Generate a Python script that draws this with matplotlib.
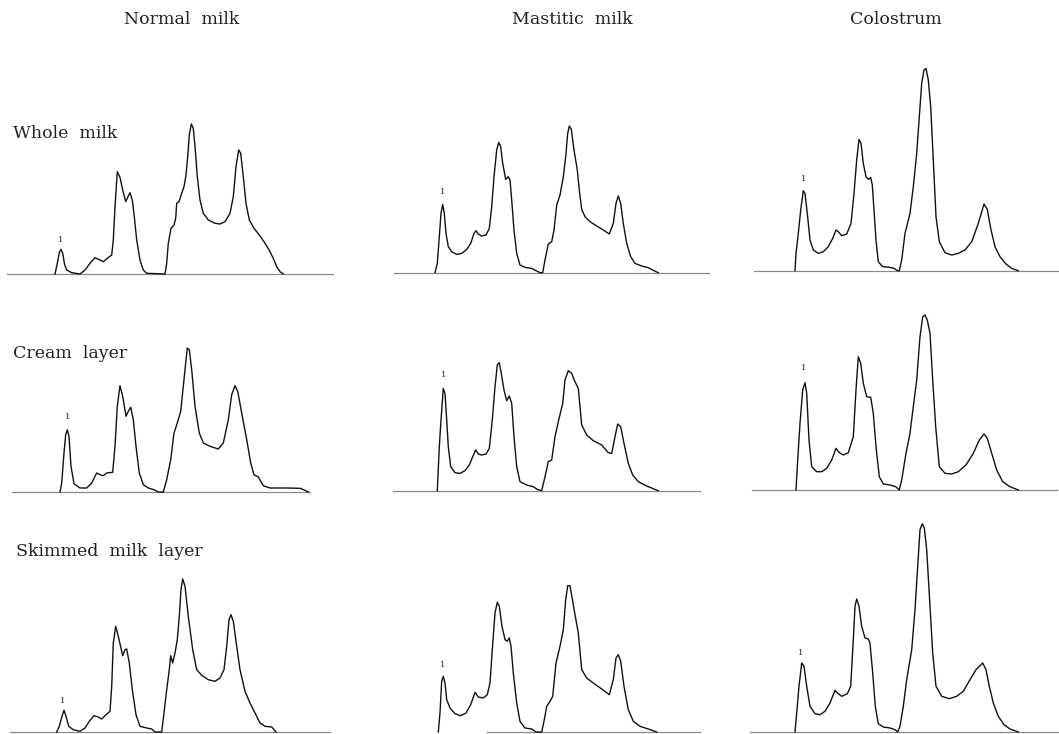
import matplotlib
matplotlib.use("Agg")
import matplotlib.pyplot as plt

# densitometer traces: migration distance (px) and height above baseline (px)
normal_whole_x = [55, 57.3, 59.3, 61, 62.7, 64.7, 66.7, 71.7, 80, 85, 90, 95, 100, 103.3, 107.3, 111.7,
                  113.3, 115, 117.3, 120, 122.7, 125.7, 128.3, 130, 132.3, 134.3, 136.7, 140, 143.3, 146.7,
                  165, 166.7, 168.3, 171, 174, 175.7, 176.7, 179, 181.7, 184, 186, 187.7, 189.3, 191.3,
                  193.3, 195.3, 197.3, 200, 203.3, 208.3, 215, 220, 225, 230, 233.3, 236, 238.7, 240.7,
                  243.3, 246, 249.3, 254, 259.3, 264, 268.7, 273.3, 276.7, 280, 283.3]
normal_whole_h = [0, 10.7, 21.3, 24.7, 20.7, 9, 4, 1.3, 0, 4, 10.7, 16.3, 14, 12.3, 15.7, 19,
                  34, 67.3, 102.3, 96.7, 84, 72.3, 78, 81.3, 74, 57.3, 34, 14, 4, 0.7,
                  0, 10.7, 30.7, 45.7, 49, 55.7, 70.7, 72.3, 80.7, 87.3, 99, 117.3, 139, 150,
                  145.7, 124, 97.3, 74, 60.7, 54, 50.7, 50, 52.3, 60.7, 77.3, 107.3, 124, 120.7,
                  97.3, 70.7, 54, 45.7, 39, 32.3, 24.7, 15.7, 7.3, 2.3, 0]

mastitic_whole_x = [55, 57.3, 59.3, 61, 62.7, 64.3, 66, 68.3, 71.7, 76.7, 81.7, 86.7, 90.7, 94, 96, 98.3,
                    101.7, 106, 109.3, 111.7, 114, 116.7, 118.7, 120.7, 122.7, 125.7, 128.3, 130, 131.7,
                    134, 136.7, 140, 145, 151.7, 156, 160, 162.7, 165, 168.3, 171.7, 174, 176.7, 180,
                    183.3, 185.7, 187.7, 189.3, 191.3, 194, 197.3, 199.3, 201.7, 205, 210, 216.7, 223.3,
                    229.3, 233.3, 236, 238.3, 240.7, 243.3, 246.7, 250.7, 255, 261.7, 268.3, 274, 278.3]
mastitic_whole_h = [0, 9.3, 36, 59.3, 68.3, 59.3, 39.3, 26, 21, 18.3, 19.3, 23.3, 29.3, 39.3, 42, 38.7,
                    36.7, 37.7, 44.3, 66, 96, 122.7, 130.3, 126, 109.3, 93.3, 96, 92.7, 72.7,
                    42.7, 19.3, 7.7, 5.3, 4.3, 2, 0, 0, 12.7, 28.7, 31, 42.7, 67.7, 77.7,
                    95.7, 116, 139.3, 146.7, 143.3, 122.7, 102.7, 82.7, 63.3, 56, 51, 46.7, 42.7,
                    38.7, 49.3, 69.3, 76.7, 69.3, 49.3, 29.3, 16, 9.3, 6.7, 5, 2, 0]

colostrum_whole_x = [45, 46, 48.3, 50.7, 53.3, 55, 57.3, 60, 63.3, 68.3, 73.3, 78.3, 82.7, 86, 88.3, 91.7,
                     96.7, 101, 104, 106.7, 109, 111, 113.3, 116, 118.3, 120.7, 122.3, 124, 126, 128.3,
                     132.7, 140, 144.3, 147.3, 149.3, 151.7, 155, 160, 163.3, 166.7, 169.3, 171.7, 174,
                     176, 178.3, 180.7, 183.3, 186, 189.3, 195, 201.7, 208.3, 215, 221.7, 228.3, 234,
                     237.3, 240.7, 245, 250, 256, 261.7, 268.3]
colostrum_whole_h = [0, 17.3, 37.3, 60.7, 80, 77.3, 57.3, 30.7, 20.7, 17.3, 19, 24, 32.3, 40.7, 39, 35,
                     36.7, 47.3, 77.3, 110.7, 131.3, 127.3, 107.3, 94, 91.3, 93.3, 85.7, 60.7, 30.7, 9,
                     4, 3.3, 2.3, 0, 0, 10.7, 37.3, 57.3, 84, 117.3, 154, 187.3, 200.7,
                     202.3, 190.7, 164, 110.7, 54, 29, 18, 15.7, 17.3, 20.7, 29, 47.3, 66.7,
                     61.3, 42.3, 24, 14, 6.7, 2.3, 0]

normal_cream_x = [60, 61.7, 64, 65.7, 67.3, 69, 71, 74, 80, 86.7, 91.7, 96.7, 100, 103.3, 106.7, 112.7,
                  115, 117.3, 120, 122.7, 126, 128.3, 130.7, 133.3, 136, 139.3, 143.3, 148.3, 154, 158.3,
                  163.3, 166.7, 170.7, 174, 177.3, 180.7, 183.3, 185.7, 187.3, 189.3, 191.7, 195, 199.3,
                  203.3, 210, 218.3, 223.3, 228.3, 231.7, 235, 237.7, 241.7, 246.7, 250.7, 254, 258.3,
                  263.3, 270, 286.7, 300, 305, 308.3]
normal_cream_h = [0, 9, 39, 57.3, 62.3, 55.7, 25.7, 8.3, 4, 4, 9, 19, 17.3, 16.3, 19, 19.7,
                  45.7, 85.7, 106.3, 95.7, 75.7, 80.7, 84.7, 72.3, 45.7, 19, 7.3, 4, 2.3, 0,
                  0, 12.3, 32.3, 59, 69, 80.7, 105.7, 129, 144, 142.3, 122.3, 85.7, 59,
                  49, 45.7, 43, 49, 72.3, 97.3, 106.3, 100.7, 79, 52.3, 29, 17.3, 15,
                  6.3, 4, 4, 3.7, 1.7, 0]

mastitic_cream_x = [57.3, 59.3, 61, 63.3, 65, 66.7, 68.3, 70.7, 75, 80, 85, 89.3, 92.7, 95.7, 98.3, 101.7,
                    106, 109.3, 112.3, 115, 117.3, 119.3, 121.3, 124, 126.7, 129.3, 131.7, 134, 136.7,
                    140, 146.7, 153.3, 157.3, 161.7, 165, 168.3, 171.7, 175, 178.3, 182.7, 185, 188.3,
                    191.7, 195, 198.3, 201.7, 206.7, 213.3, 221.7, 228.3, 231.7, 235, 237.7, 240.7, 244,
                    248.3, 252.7, 258.3, 266.7, 275, 278.3]
mastitic_cream_h = [0, 44, 70.7, 102.3, 97.3, 70.7, 44, 24, 18, 17.3, 20, 25.7, 34, 40.7, 36.7, 35.7,
                    36.7, 42.3, 70.7, 104, 125.7, 128, 117.3, 100.7, 90, 94.7, 87.3, 54, 24,
                    9, 5.7, 4, 1.3, 0, 14, 29, 30.7, 54, 69, 87.3, 110.7, 120,
                    117.3, 109, 102.3, 65.7, 55.7, 50, 45.7, 38, 37.3, 54, 66.7, 64, 47.3,
                    27.3, 15.7, 9, 4.7, 1.3, 0]

colostrum_cream_x = [46, 47.3, 50, 52.7, 55, 56.7, 59, 61.7, 66.7, 71.7, 76.7, 81.7, 86, 89.3, 93.3, 98.3,
                     103.3, 106, 108.3, 110.7, 113.3, 116.7, 120.7, 123.3, 126, 129.3, 133.3, 140, 145.7,
                     149.3, 151.7, 156, 160, 163.3, 166.7, 170, 172.7, 175, 177.3, 180, 182.7, 185.7,
                     189.3, 195, 201.7, 208.3, 216, 223.3, 229.3, 234, 237.3, 241.7, 246.7, 252.7, 260,
                     268.3]
colostrum_cream_h = [0, 23.3, 66.7, 100, 107.3, 96.7, 50, 23.3, 18.3, 18.3, 21.7, 30, 41.7, 37.3, 35, 37.3,
                     53.3, 100, 133.3, 126.7, 106.7, 93.3, 92.7, 76.7, 43.3, 13.3, 6, 5, 3.3,
                     0, 10, 36.7, 56.7, 83.3, 110, 153.3, 173.3, 175, 170, 156.7, 110, 63.3,
                     23.3, 16.7, 16, 18.3, 25, 36.7, 50, 56, 51.7, 36.7, 20, 8.3, 3.3,
                     0]

normal_skim_x = [56.7, 59.3, 62, 64, 66, 68.7, 73.3, 80, 85, 89.3, 94, 98.3, 101.7, 106, 110, 111.7,
                 113.3, 115.7, 118.3, 122.7, 125, 126.7, 129.3, 132.3, 136, 140, 146.7, 151.7, 155,
                 161.7, 164, 166.7, 169.3, 170.7, 172.7, 175, 177.3, 179.3, 181, 182.7, 185, 188.3,
                 192.7, 196.7, 201.7, 208.3, 215, 220, 224, 226.7, 229, 231, 233.3, 236.7, 240, 245,
                 250, 255, 260, 265, 271.7, 276]
normal_skim_h = [0, 5.7, 15.7, 21.7, 15.7, 5.7, 2.3, 0.7, 4, 10.7, 16.3, 15, 13, 17.3, 20.7, 45.7,
                 89, 105.7, 95.7, 76.3, 82.3, 83, 69, 42.3, 17.3, 5.7, 4, 3, 0,
                 0, 19, 42.3, 62.3, 76.3, 69, 79, 92.3, 115.7, 142.3, 153, 145.7, 115.7,
                 82.3, 62.3, 56.7, 52.3, 50.7, 54, 62.3, 85.7, 112.3, 117.3, 110.7, 85.7, 62.3, 40.7,
                 29, 19, 9, 5.7, 5, 0]

mastitic_skim_x = [58.3, 60, 61.7, 63.3, 65, 66.7, 70, 75, 80.7, 86, 90.7, 95, 98.3, 103.3, 107.3, 110,
                   112.3, 115, 117.3, 119.3, 122, 125, 127.3, 129.3, 131, 133.3, 136.7, 140, 145,
                   151.7, 156, 161.7, 164.3, 166.7, 170, 172.7, 176, 180, 183.3, 185.7, 187.7, 190,
                   192.7, 195.3, 198.3, 201.7, 206.7, 213.3, 221.7, 229.3, 233.3, 236, 238.3, 240.7,
                   244, 248.3, 253.3, 260, 268.3, 276.7]
mastitic_skim_h = [0, 19, 50.7, 55.7, 49, 32.3, 24, 18.3, 16.3, 19, 27.3, 39.7, 35, 34, 37.3, 49,
                   82.3, 119, 129.7, 125.7, 105.7, 92.3, 90.7, 94, 85.7, 59, 29, 10.7, 4,
                   3, 0, 0, 12.3, 25.7, 30.7, 35.7, 69, 85.7, 102.3, 132.3, 146.3, 146.3,
                   130.7, 115.7, 99, 62.3, 54, 49, 43, 37.3, 52.3, 74, 77.3, 70.7,
                   45.7, 22.3, 10.7, 5.7, 3, 0]

colostrum_skim_x = [45, 46.7, 49, 51.7, 54, 56.7, 60, 65, 70, 75, 80, 85, 87.3, 91.7, 97.3, 100.7,
                    103.3, 105, 106.7, 109, 111.7, 115, 118.3, 120, 122.7, 125.3, 128.3, 133.3, 140,
                    145, 147.7, 150, 153.3, 156.7, 161.7, 165, 167.7, 170, 172.3, 174.3, 176.7, 180,
                    182.7, 186, 191.7, 199.3, 206.7, 213.3, 220, 226, 232.7, 236, 239.3, 243.3, 248.3,
                    254, 260, 268.3]
colostrum_skim_h = [0, 19, 45.7, 69, 65.7, 45.7, 25.7, 18.3, 17.3, 20.7, 29, 41.7, 39, 35.7, 38.3, 45.7,
                    92.3, 125.7, 133, 125.7, 105.7, 94, 93, 89, 59, 25.7, 8.3, 5, 4,
                    2.3, 0, 5.7, 25.7, 52.3, 82.3, 122.3, 165.7, 202.3, 208.3, 204, 182.3, 125.7,
                    79, 45.7, 35.7, 33.3, 35.7, 40.7, 52.3, 62.3, 69, 62.3, 45.7, 29, 15.7,
                    7.3, 3, 0]

# position of the "1" mark over the first peak (x, height)
marks = [[(61, 34), (62.7, 81), (53.3, 92)],
         [(67.3, 75), (63.3, 116), (53.3, 122)],
         [(62.7, 31), (62.7, 67), (51, 79)]]

col_titles = ["Normal  milk", "Mastitic  milk", "Colostrum"]
row_titles = ["Whole  milk", "Cream  layer", "Skimmed  milk  layer"]

traces = [[(normal_whole_x, normal_whole_h), (mastitic_whole_x, mastitic_whole_h), (colostrum_whole_x, colostrum_whole_h)],
          [(normal_cream_x, normal_cream_h), (mastitic_cream_x, mastitic_cream_h), (colostrum_cream_x, colostrum_cream_h)],
          [(normal_skim_x, normal_skim_h), (mastitic_skim_x, mastitic_skim_h), (colostrum_skim_x, colostrum_skim_h)]]

# layout in pixels
W, H = 1059, 734
col_left = [0, 380, 750]
col_width = [380, 370, 309]
row_base = [[274, 272.7, 270.7], [492, 490.7, 490], [732, 732, 732]]
base_span = [[(7, 333), (14, 329), (4, 309)],
             [(12, 310), (13, 320), (2, 307)],
             [(10, 330), (107, 320), (0, 309)]]
title_pos = [(182, 19), (572, 19), (896, 19)]
row_label_pos = [(13, 133), (13, 353), (16, 552)]

fig = plt.figure(figsize=(W / 100, H / 100), dpi=100)
fig.patch.set_facecolor("white")

for r in range(3):
    for c in range(3):
        base = row_base[r][c]
        ax = fig.add_axes([col_left[c] / W, (H - base - 2) / H, col_width[c] / W, 232 / H])
        ax.set_xlim(0, col_width[c])
        ax.set_ylim(-2, 230)
        ax.axis("off")
        x0, x1 = base_span[r][c]
        ax.plot([x0, x1], [0, 0], color="#8a8a8a", lw=0.9, clip_on=False)
        xs, hs = traces[r][c]
        ax.plot(xs, hs, color="#111111", lw=1.0, clip_on=False, solid_joinstyle="round")
        mx, my = marks[r][c]
        ax.text(mx, my, "1", fontsize=6, family="DejaVu Serif", ha="center", va="center", color="#222222")

for t, (x, y) in zip(col_titles, title_pos):
    fig.text(x / W, 1 - y / H, t, fontsize=12.5, family="DejaVu Serif", ha="center", va="center", color="#222222")
for t, (x, y) in zip(row_titles, row_label_pos):
    fig.text(x / W, 1 - y / H, t, fontsize=12.5, family="DejaVu Serif", ha="left", va="center", color="#222222")

fig.savefig("out.png", dpi=100, facecolor="white")
